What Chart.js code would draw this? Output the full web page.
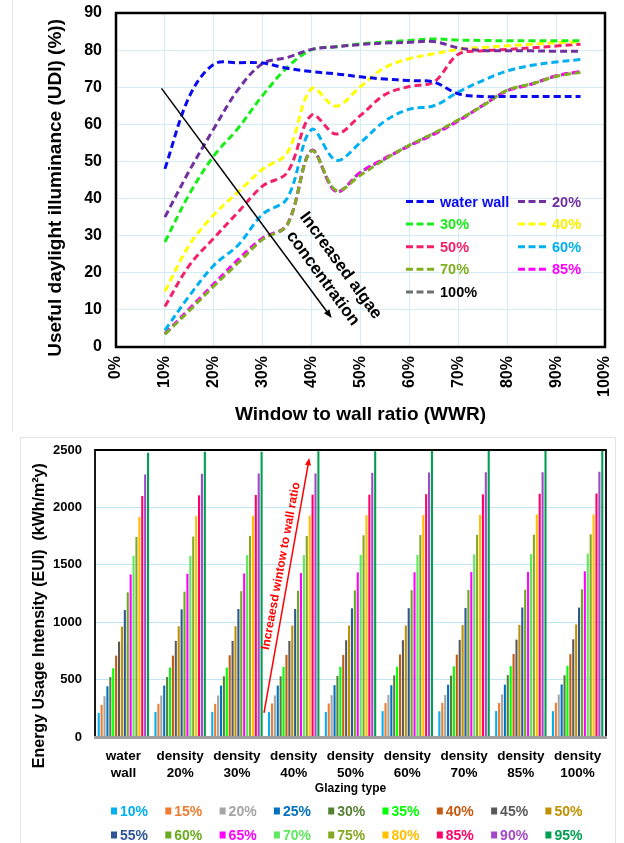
<!DOCTYPE html>
<html>
<head>
<meta charset="utf-8">
<title>UDI and EUI against window to wall ratio</title>
<script src="https://cdn.jsdelivr.net/npm/chart.js@4.4.1/dist/chart.umd.min.js"></script>
<style>
  body { margin: 0; background: #fff; }
  #page { position: relative; width: 624px; height: 843px; overflow: hidden; }
  .box { position: absolute; left: 0; width: 624px; }
  #udiBox { top: 0; height: 430px; }
  #euiBox { top: 430px; height: 413px; }
  .frame { position: absolute; border: 1px solid #e4e4e4; }
</style>
</head>
<body>
<div id="page">
  <div class="frame" style="left:12px; top:-2px; width:0; height:434px; border-width:0 0 0 1px;"></div>
  <div class="frame" style="left:20px; top:437px; width:594px; height:420px;"></div>
  <div class="box" id="udiBox"><canvas id="udiChart"></canvas></div>
  <div class="box" id="euiBox"><canvas id="euiChart"></canvas></div>
</div>
<script>
// ---- top chart: UDI (%) vs WWR ----
const wwr = [10, 15, 20, 25, 30, 35, 40, 45, 50, 55, 60, 65, 70, 75, 80, 85, 90, 95];
const udiWaterWall = [48.0, 67.5, 76.2, 76.6, 76.5, 75.1, 74.2, 73.6, 72.8, 72.2, 71.8, 71.4, 68.2, 67.5, 67.5, 67.5, 67.5, 67.5];
const udi20 = [35.0, 47.5, 58.8, 69.4, 76.4, 78.0, 80.2, 80.9, 81.5, 81.9, 82.1, 82.3, 80.6, 79.9, 79.8, 79.8, 79.7, 79.7];
const udi30 = [28.3, 41.2, 51.5, 59.0, 67.8, 75.3, 80.1, 80.9, 81.7, 82.2, 82.6, 83.0, 82.7, 82.6, 82.5, 82.5, 82.5, 82.5];
const udi40 = [15.0, 27.5, 35.6, 41.8, 47.9, 52.3, 69.6, 64.9, 70.2, 75.3, 77.7, 79.0, 80.2, 80.7, 81.2, 81.6, 82.0, 82.2];
const udi50 = [10.9, 22.0, 29.3, 36.4, 43.4, 47.0, 62.5, 57.4, 62.4, 68.0, 70.2, 71.4, 78.9, 79.8, 80.2, 80.6, 81.1, 81.6];
const udi60 = [4.5, 13.8, 22.0, 27.5, 35.8, 40.0, 58.6, 50.3, 55.1, 60.9, 64.1, 65.0, 68.7, 71.8, 74.4, 75.9, 76.8, 77.5];
const udi70 = [3.4, 9.8, 16.4, 22.7, 29.0, 32.9, 52.8, 42.2, 46.3, 50.6, 54.4, 57.6, 61.2, 65.0, 69.2, 70.9, 72.9, 74.0];
const udi85 = [3.6, 10.3, 17.0, 23.6, 29.4, 33.0, 52.9, 41.9, 47.0, 50.9, 54.2, 57.3, 60.9, 65.1, 69.0, 70.8, 73.1, 74.2];
const udi100 = [3.5, 10.0, 16.6, 22.9, 29.2, 32.8, 53.0, 41.9, 47.1, 50.7, 54.3, 57.5, 61.0, 65.1, 69.1, 70.9, 73.0, 74.2];
const udiNames = ['water wall', '20%', '30%', '40%', '50%', '60%', '70%', '85%', '100%'];
const udiColors = ['#0a0aef', '#7030a0', '#19ee19', '#ffff00', '#f5206a', '#00b0f0', '#80b020', '#ff00ff', '#707070'];
const udiTextColors = ['#0a0aef', '#7030a0', '#19ee19', '#f5f000', '#f5206a', '#00b0f0', '#80b020', '#ff00ff', '#000000'];

// ---- bottom chart: EUI per glazing type, one value per WWR step ----
const glazingTypes = ['water wall', 'density 20%', 'density 30%', 'density 40%', 'density 50%',
                      'density 60%', 'density 70%', 'density 85%', 'density 100%'];
const wwrLabels = ['10%', '15%', '20%', '25%', '30%', '35%', '40%', '45%', '50%',
                   '55%', '60%', '65%', '70%', '75%', '80%', '85%', '90%', '95%'];
const euiWaterWall = [210, 280, 356, 442, 523, 599, 709, 831, 962, 1106, 1260, 1416, 1578, 1743, 1917, 2099, 2287, 2475];
const euiDensity20 = [219, 289, 362, 448, 523, 605, 709, 837, 965, 1112, 1266, 1422, 1578, 1746, 1923, 2105, 2293, 2484];
const euiDensity30 = [219, 289, 362, 448, 529, 605, 712, 837, 965, 1115, 1271, 1425, 1584, 1752, 1928, 2108, 2296, 2484];
const euiDensity40 = [219, 292, 362, 448, 529, 611, 715, 837, 971, 1115, 1274, 1428, 1584, 1752, 1928, 2111, 2296, 2490];
const euiDensity50 = [219, 292, 364, 451, 532, 611, 715, 843, 971, 1121, 1277, 1434, 1587, 1757, 1931, 2111, 2302, 2490];
const euiDensity60 = [225, 295, 367, 451, 537, 612, 719, 843, 972, 1122, 1279, 1435, 1585, 1759, 1933, 2115, 2303, 2491];
const euiDensity70 = [224, 297, 366, 455, 535, 616, 718, 846, 975, 1124, 1281, 1437, 1591, 1761, 1935, 2114, 2306, 2493];
const euiDensity85 = [226, 296, 371, 456, 539, 617, 723, 848, 977, 1128, 1283, 1439, 1593, 1763, 1938, 2119, 2307, 2495];
const euiDensity100 = [225, 299, 370, 458, 538, 621, 722, 851, 981, 1127, 1287, 1443, 1597, 1766, 1939, 2121, 2310, 2497];
const euiColors = ['#00b0f0', '#ed7d31', '#a5a5a5', '#0070c0', '#548235', '#00ff00', '#c55a11', '#595959', '#bf9000',
                   '#2f5597', '#6aaa1e', '#ff00ff', '#5ee85e', '#84a820', '#ffc000', '#ff0066', '#a349c8', '#00a050'];

const FONT = "'Liberation Sans', Arial, Helvetica, sans-serif";
Chart.defaults.font.family = FONT;
Chart.defaults.color = '#000';

function drawArrow(ctx, x1, y1, x2, y2, color, width, head) {
  const a = Math.atan2(y2 - y1, x2 - x1);
  ctx.save();
  ctx.strokeStyle = color;
  ctx.fillStyle = color;
  ctx.lineWidth = width;
  ctx.beginPath();
  ctx.moveTo(x1, y1);
  ctx.lineTo(x2 - Math.cos(a) * head * 0.7, y2 - Math.sin(a) * head * 0.7);
  ctx.stroke();
  ctx.beginPath();
  ctx.moveTo(x2, y2);
  ctx.lineTo(x2 - head * Math.cos(a - 0.38), y2 - head * Math.sin(a - 0.38));
  ctx.lineTo(x2 - head * Math.cos(a + 0.38), y2 - head * Math.sin(a + 0.38));
  ctx.closePath();
  ctx.fill();
  ctx.restore();
}

// keep the plot box where layout.padding puts it
function fixWidth(w) {
  return s => { s.width = w; s.paddingTop = 0; s.paddingBottom = 0; };
}
function fixHeight(h) {
  return s => { s.height = h; s.paddingLeft = 0; s.paddingRight = 0; };
}

// frame, legend and the arrow note for the UDI chart
const udiExtras = {
  id: 'udiExtras',
  afterDatasetsDraw(chart) {
    const ctx = chart.ctx, ca = chart.chartArea;
    const x = chart.scales.x, y = chart.scales.y;

    ctx.save();
    ctx.strokeStyle = '#000';
    ctx.lineWidth = 2.5;
    ctx.strokeRect(ca.left, ca.top, ca.right - ca.left, ca.bottom - ca.top);

    drawArrow(ctx, x.getPixelForValue(9.3), y.getPixelForValue(69.7),
              x.getPixelForValue(44.1), y.getPixelForValue(7.8), '#000', 1.5, 9);

    ctx.translate(x.getPixelForValue(44.1), y.getPixelForValue(20.2));
    ctx.rotate(54 * Math.PI / 180);
    ctx.font = 'bold 17px ' + FONT;
    ctx.textAlign = 'center';
    ctx.textBaseline = 'middle';
    ctx.fillStyle = '#000';
    ctx.fillText('Increased algae', 0, -11);
    ctx.fillText('concentration', 0, 11);
    ctx.restore();

    ctx.save();
    ctx.font = 'bold 14.5px ' + FONT;
    ctx.textBaseline = 'middle';
    udiNames.forEach((name, i) => {
      const lx = ca.left + (i % 2 ? 402 : 290);
      const ly = ca.top + 188.5 + Math.floor(i / 2) * 22.6;
      ctx.strokeStyle = udiColors[i];
      ctx.lineWidth = 3;
      ctx.setLineDash([7, 3.5]);
      ctx.beginPath();
      ctx.moveTo(lx, ly);
      ctx.lineTo(lx + 28, ly);
      ctx.stroke();
      ctx.fillStyle = udiTextColors[i];
      ctx.fillText(name, lx + 34, ly + 1);
    });
    ctx.restore();
  }
};

const udiValues = [udiWaterWall, udi20, udi30, udi40, udi50, udi60, udi70, udi85, udi100];

new Chart(document.getElementById('udiChart'), {
  type: 'line',
  data: {
    datasets: udiNames.map((name, i) => ({
      label: name,
      data: udiValues[i].map((v, j) => ({ x: wwr[j], y: v })),
      borderColor: udiColors[i],
      borderWidth: 3,
      borderDash: [7, 4],
      pointRadius: 0,
      tension: 0.35,
      fill: false
    }))
  },
  options: {
    responsive: true,
    maintainAspectRatio: false,
    animation: false,
    devicePixelRatio: 1,
    layout: { padding: { left: 40, right: 19, top: 13, bottom: 0 } },
    plugins: { legend: { display: false }, tooltip: { enabled: false } },
    scales: {
      x: {
        type: 'linear', min: 0, max: 100,
        ticks: { stepSize: 10, minRotation: 90, maxRotation: 90, padding: 9,
                 font: { size: 16, weight: 'bold' }, callback: v => v + '%' },
        grid: { color: '#d3ecf7', drawTicks: false },
        border: { display: false },
        title: { display: true, text: 'Window to wall ratio (WWR)', font: { size: 19, weight: 'bold' } },
        afterFit: fixHeight(83)
      },
      y: {
        min: 0, max: 90,
        ticks: { stepSize: 10, padding: 14, font: { size: 16, weight: 'bold' } },
        grid: { color: '#d3ecf7', drawTicks: false },
        border: { display: false },
        title: { display: true, text: 'Useful daylight illuminance (UDI) (%))' + '\u00a0'.repeat(3),
                 font: { size: 19, weight: 'bold' } },
        afterFit: fixWidth(76)
      }
    }
  },
  plugins: [udiExtras]
});

// frame, legend and the arrow note for the EUI chart
const euiExtras = {
  id: 'euiExtras',
  afterDatasetsDraw(chart) {
    const ctx = chart.ctx, ca = chart.chartArea;
    const x = chart.scales.x, y = chart.scales.y;
    ctx.save();
    ctx.strokeStyle = '#000';
    ctx.lineWidth = 1.8;
    ctx.beginPath();
    ctx.moveTo(ca.left, ca.bottom);
    ctx.lineTo(ca.left, ca.top);
    ctx.lineTo(ca.right, ca.top);
    ctx.lineTo(ca.right, ca.bottom);
    ctx.stroke();
    ctx.strokeStyle = '#a0a0a0';
    ctx.lineWidth = 3;
    ctx.beginPath();
    ctx.moveTo(ca.left - 1, ca.bottom + 0.5);
    ctx.lineTo(ca.right + 1, ca.bottom + 0.5);
    ctx.stroke();

    drawArrow(ctx, x.getPixelForValue(2.476), y.getPixelForValue(210),
              x.getPixelForValue(3.274), y.getPixelForValue(2430), '#ff0000', 1.5, 8);
    ctx.translate(x.getPixelForValue(2.776), y.getPixelForValue(1489));
    ctx.rotate(-79.5 * Math.PI / 180);
    ctx.font = 'bold 12px ' + FONT;
    ctx.textAlign = 'center';
    ctx.textBaseline = 'middle';
    ctx.fillStyle = '#ff0000';
    ctx.fillText('Increaesd wintow to wall ratio', 0, 0);
    ctx.restore();
  },
  afterDraw(chart) {
    const ctx = chart.ctx;
    ctx.save();
    ctx.font = 'bold 14px ' + FONT;
    ctx.textBaseline = 'middle';
    wwrLabels.forEach((lab, i) => {
      const lx = 111 + (i % 9) * 54.3;
      const ly = 381 + Math.floor(i / 9) * 24;
      ctx.fillStyle = euiColors[i];
      ctx.fillRect(lx, ly - 3.5, 6, 7);
      ctx.fillText(lab, lx + 9, ly + 1);
    });
    ctx.restore();
  }
};

const euiRows = [euiWaterWall, euiDensity20, euiDensity30, euiDensity40, euiDensity50,
                 euiDensity60, euiDensity70, euiDensity85, euiDensity100];

new Chart(document.getElementById('euiChart'), {
  type: 'bar',
  data: {
    labels: glazingTypes.map(t => t.split(' ')),
    datasets: wwrLabels.map((lab, k) => ({
      label: lab,
      data: euiRows.map(row => row[k]),
      backgroundColor: euiColors[k],
      borderWidth: 0,
      categoryPercentage: 0.92,
      barPercentage: 0.72
    }))
  },
  options: {
    responsive: true,
    maintainAspectRatio: false,
    animation: false,
    devicePixelRatio: 1,
    layout: { padding: { left: 26, right: 18, top: 20, bottom: 43 } },
    plugins: { legend: { display: false }, tooltip: { enabled: false } },
    scales: {
      x: {
        ticks: { padding: 11, maxRotation: 0, font: { size: 13.5, weight: 'bold', lineHeight: 1.25 } },
        grid: { display: false, drawTicks: false },
        border: { display: false },
        title: { display: true, text: 'Glazing type', font: { size: 12, weight: 'bold' } },
        afterFit: fixHeight(63)
      },
      y: {
        min: 0, max: 2500,
        ticks: { stepSize: 500, padding: 13, font: { size: 13, weight: 'bold' }, callback: v => String(v) },
        grid: { color: '#bfe5f4', drawTicks: false },
        border: { display: false },
        title: { display: true, text: 'Energy Usage Intensity (EUI)  (kWh/m\u00b2y)' + '\u00a0'.repeat(10),
                 font: { size: 16, weight: 'bold' } },
        afterFit: fixWidth(69)
      }
    }
  },
  plugins: [euiExtras]
});
</script>
</body>
</html>
